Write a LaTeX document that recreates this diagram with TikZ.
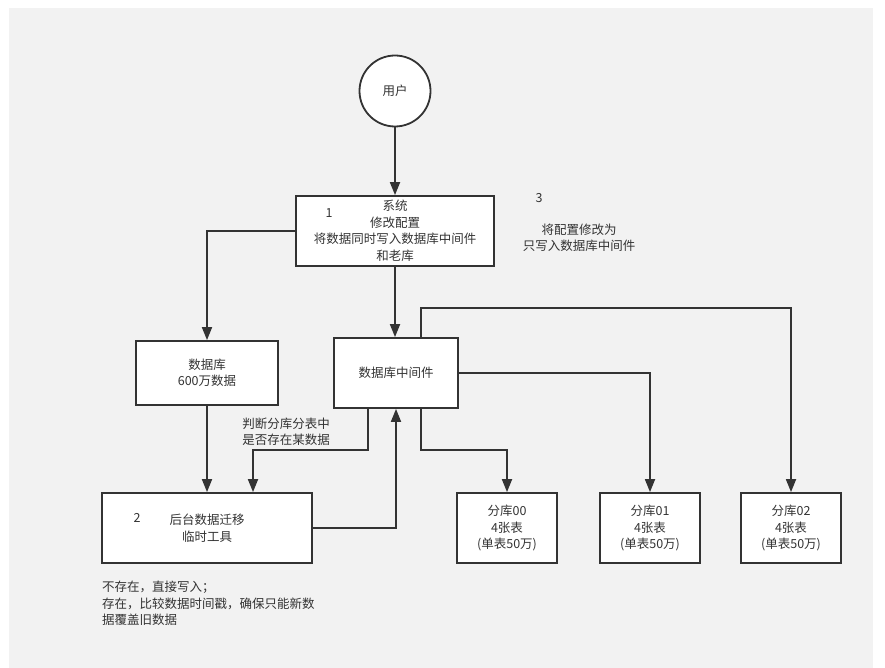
\documentclass[tikz,border=0pt]{standalone}
\usepackage{fontspec}
\newfontfamily\cjk{Noto Sans CJK SC}
\usetikzlibrary{arrows.meta,calc}
\definecolor{panel}{HTML}{F2F2F2}
\definecolor{ink}{HTML}{333333}
\begin{document}
\begin{tikzpicture}[x=1pt,y=-1pt,
  box/.style={draw=ink, line width=1.8pt, fill=white, inner sep=0pt, align=center,
    font=\cjk\fontsize{12.5}{16.5}\selectfont, text=ink},
  lbl/.style={inner sep=0pt, align=center, font=\cjk\fontsize{12.5}{16.5}\selectfont, text=ink},
  conn/.style={draw=ink, line width=1.8pt, -{Triangle[length=13pt,width=10pt]}}
]
\fill[white] (0,0) rectangle (885,668);
\fill[panel] (9,8) rectangle (873,668);
\useasboundingbox (0,0) rectangle (885,668);

\node[box, circle, minimum size=71pt] (user) at (395,91) {用户};
\node[box, minimum width=198pt, minimum height=70pt] (sys) at (395,231)
  {系统\\修改配置\\将数据同时写入数据库中间件\\和老库};
\node[box, minimum width=142pt, minimum height=64pt] (db) at (207,373) {数据库\\600万数据};
\node[box, minimum width=124pt, minimum height=70pt] (mid) at (396,373) {数据库中间件};
\node[box, minimum width=210pt, minimum height=70pt] (tool) at (207,528) {后台数据迁移\\临时工具};
\node[box, minimum width=100pt, minimum height=70pt] (s0) at (507,528) {分库00\\4张表\\(单表50万)};
\node[box, minimum width=100pt, minimum height=70pt] (s1) at (650,528) {分库01\\4张表\\(单表50万)};
\node[box, minimum width=100pt, minimum height=70pt] (s2) at (791,528) {分库02\\4张表\\(单表50万)};

\node[lbl] (n1) at (329,213) {1};
\node[lbl] (n2) at (137,518) {2};
\node[lbl] (n3) at (539,198) {3};
\node[lbl] (note3) at (579,238) {将配置修改为\\只写入数据库中间件};
\node[lbl] (judge) at (286,432) {判断分库分表中\\是否存在某数据};
\node[lbl, anchor=base west, align=left] (note) at (102,624.5)
  {不存在，直接写入；\\存在，比较数据时间戳，确保只能新数\\据覆盖旧数据};

\coordinate (j1) at (368,450);
\coordinate (j2) at (253,450);
\coordinate (k1) at (421,450);
\coordinate (t1) at (421,308);

\draw[conn] (user) -- (sys);
\draw[conn] (sys.west) -| (db.north);
\draw[conn] (sys.south) -- (sys.south |- mid.north);
\draw[conn] (db.south) -- (db.south |- tool.north);
\draw[conn] (mid.south -| j1) -- (j1) -- (j2) -- (j2 |- tool.north);
\draw[conn] (tool.east) -| (mid.south);
\draw[conn] (mid.south -| k1) -- (k1) -| (s0.north);
\draw[conn] (mid.east) -| (s1.north);
\draw[conn] (mid.north -| t1) -- (t1) -| (s2.north);
\end{tikzpicture}
\end{document}
